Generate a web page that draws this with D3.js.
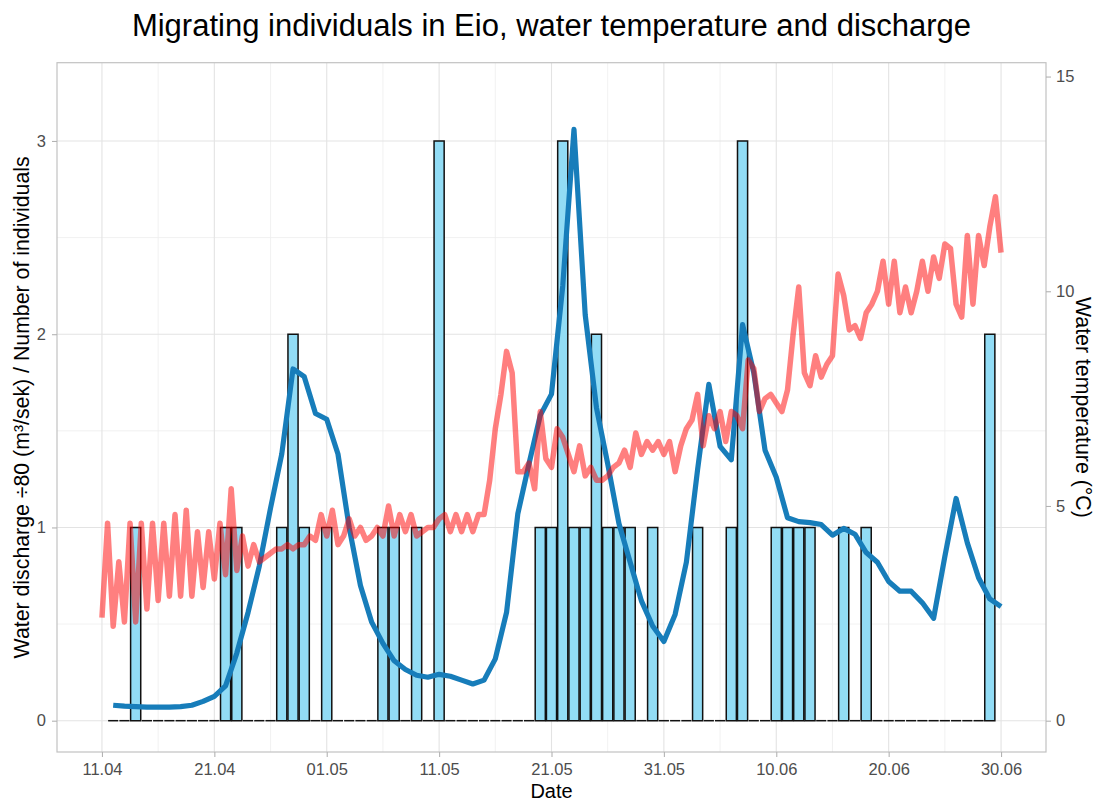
<!DOCTYPE html>
<html><head><meta charset="utf-8">
<script src="https://cdn.jsdelivr.net/npm/d3@7"></script>
<style>
body{margin:0;background:#fff}
text{font-family:"Liberation Sans",Arial,Helvetica,sans-serif}
</style>
</head><body>
<svg id="chart" width="1100" height="802"></svg>
<script>
// ---------------- data ----------------
const titleText = "Migrating individuals in Eio, water temperature and discharge";
const xTitle = "Date";
const yLeftTitle = "Water discharge \u00F780 (m\u00B3/sek) / Number of individuals";
const yRightTitle = "Water temperature (\u00B0C)";

const firstDate = "2021-04-11";   // first temperature reading / first axis tick
const lastDate  = "2021-06-30";   // last axis tick
const xTickLabels = ["11.04","21.04","01.05","11.05","21.05","31.05","10.06","20.06","30.06"];
const yLeftTicks  = [0, 1, 2, 3];
const yRightTicks = [0, 5, 10, 15];

// migrating individuals per day, 12.04 - 29.06
const countStart = "2021-04-12";
const fishCounts = [
  0,0,1,0,0,0,0,0,0,0,
  1,1,0,0,0,1,2,1,0,1,
  0,0,0,0,1,1,0,1,0,3,
  0,0,0,0,0,0,0,0,1,1,
  3,1,1,2,1,1,1,0,1,0,
  0,0,1,0,0,1,3,0,0,1,
  1,1,1,0,0,1,0,1,0,0,
  0,0,0,0,0,0,0,0,2
];

// daily water discharge (m3/s), 12.04 - 30.06
const dischargeStart = "2021-04-12";
const discharge = [
  6.4,6.0,5.8,5.6,5.6,5.6,5.8,6.4,8.0,10.1,
  14.4,28.0,44.8,64.0,88.0,110.4,145.6,142.4,127.2,124.8,
  110.4,80.0,56.0,40.8,32.0,24.8,21.2,18.8,18.0,19.2,
  18.4,16.8,15.2,16.8,25.6,44.8,85.6,106.4,126.4,135.2,
  180.0,244.8,168.0,129.6,106.4,81.6,65.6,49.6,39.2,32.8,
  44.0,65.6,104.0,139.2,113.6,108.0,164.0,144.0,112.0,100.8,
  84.0,82.4,82.0,81.2,76.8,79.6,77.2,69.6,65.6,57.6,
  53.6,53.6,48.8,42.4,68.0,92.0,73.6,59.2,50.4,47.2
];

// water temperature (degC), every 12 hours from 11.04 00:00 to 30.06 00:00
const waterTemp = [
  2.4,4.6, 2.2,3.7, 2.3,4.6, 2.3,4.6, 2.6,4.6, 2.8,4.6, 2.9,4.8, 2.9,4.9, 2.9,4.4, 3.1,4.4,
  3.3,4.6, 3.4,5.4, 3.5,4.3, 3.6,4.1, 3.7,3.8, 3.9,4.0, 4.0,4.1, 4.0,4.1, 4.1,4.3, 4.2,4.8,
  4.3,4.9, 4.1,4.3, 4.7,4.3, 4.5,4.2, 4.3,4.5, 4.3,5.0, 4.3,4.8, 4.4,4.8, 4.3,4.4, 4.5,4.5,
  4.7,4.8, 4.4,4.8, 4.4,4.8, 4.4,4.8, 4.8,5.6, 6.8,7.6, 8.6,8.1, 5.8,5.8, 6.0,5.4, 7.2,6.1,
  5.9,6.8, 6.6,6.2, 5.8,6.4, 5.7,5.9, 5.6,5.6, 5.7,5.9, 6.0,6.3, 5.9,6.7, 6.2,6.5, 6.3,6.5,
  6.2,6.5, 5.8,6.4, 6.8,7.0, 7.6,6.4, 7.1,6.8, 7.2,6.5, 7.2,7.1, 6.8,8.4, 8.2,7.2, 7.5,7.6,
  7.4,7.2, 7.7,9.0, 10.1,8.1, 7.8,8.5, 8.0,8.3, 8.5,10.4, 9.9,9.1, 9.2,8.9, 9.5,9.7, 10.0,10.7,
  9.7,10.7, 9.5,10.1, 9.5,10.0, 10.7,10.0, 10.8,10.3, 11.1,11.0, 9.7,9.4, 11.3,9.7, 11.3,10.6, 11.5,12.2,
  10.9
];
const tempFactor = 4.5;     // secondary axis: degC = primary * 4.5
const dischargeDivisor = 80;

// ---------------- layout ----------------
const P = {left: 57, right: 1046, top: 62.7, bottom: 752};
const svg = d3.select("#chart");
const parse = d3.utcParse("%Y-%m-%d");
const day0 = parse(firstDate), dayN = parse(lastDate);
const span = dayN - day0;
const DAY = 864e5;

const x = d3.scaleUtc()
  .domain([new Date(+day0 - 0.05 * span), new Date(+dayN + 0.05 * span)])
  .range([P.left, P.right]);
const y = d3.scaleLinear().domain([-0.162, 3.405]).range([P.bottom, P.top]);
const yR = d3.scaleLinear().domain(y.domain().map(v => v * tempFactor)).range(y.range());

const majorX = xTickLabels.map((_, i) => d3.utcDay.offset(day0, i * 10));
const minorX = majorX.slice(0, -1).map(d => d3.utcDay.offset(d, 5));
const minorY = [0.5, 1.5, 2.5];

// grid
const grid = svg.append("g");
grid.selectAll(".mnx").data(minorX).join("line")
  .attr("x1", d => x(d)).attr("x2", d => x(d)).attr("y1", P.top).attr("y2", P.bottom)
  .attr("stroke", "#EDEDED").attr("stroke-width", 0.8);
grid.selectAll(".mny").data(minorY).join("line")
  .attr("x1", P.left).attr("x2", P.right).attr("y1", d => y(d)).attr("y2", d => y(d))
  .attr("stroke", "#EDEDED").attr("stroke-width", 0.8);
grid.selectAll(".mjx").data(majorX).join("line")
  .attr("x1", d => x(d)).attr("x2", d => x(d)).attr("y1", P.top).attr("y2", P.bottom)
  .attr("stroke", "#E3E3E3").attr("stroke-width", 1.1);
grid.selectAll(".mjy").data(yLeftTicks).join("line")
  .attr("x1", P.left).attr("x2", P.right).attr("y1", d => y(d)).attr("y2", d => y(d))
  .attr("stroke", "#E3E3E3").attr("stroke-width", 1.1);

// bars
const cStart = parse(countStart);
const barData = fishCounts.map((c, i) => ({date: d3.utcDay.offset(cStart, i), n: c}));
const halfW = (x(new Date(+day0 + 0.9 * DAY)) - x(day0)) / 2;
svg.append("g").selectAll("path").data(barData).join("path")
  .attr("d", d => {
    const p = d3.path();
    const x0 = x(d.date) - halfW, x1 = x(d.date) + halfW;
    if (d.n > 0) { p.rect(x0, y(d.n), x1 - x0, y(0) - y(d.n)); }
    else { p.moveTo(x0, y(0)); p.lineTo(x1, y(0)); }
    return p.toString();
  })
  .attr("fill", d => d.n > 0 ? "#92DCF5" : "none")
  .attr("stroke", "#111").attr("stroke-width", 1.5);

// discharge line
const qStart = parse(dischargeStart);
const qData = discharge.map((q, i) => ({date: d3.utcDay.offset(qStart, i), v: q / dischargeDivisor}));
svg.append("path").datum(qData)
  .attr("d", d3.line().x(d => x(d.date)).y(d => y(d.v)))
  .attr("fill", "none").attr("stroke", "#177DBA").attr("stroke-width", 5.2)
  .attr("stroke-linejoin", "round").attr("stroke-linecap", "butt");

// temperature line
const tData = waterTemp.map((t, i) => ({date: new Date(+day0 + i * DAY / 2), t}));
svg.append("path").datum(tData)
  .attr("d", d3.line().x(d => x(d.date)).y(d => yR(d.t)))
  .attr("fill", "none").attr("stroke", "#FF0000").attr("stroke-opacity", 0.5)
  .attr("stroke-width", 5.5).attr("stroke-linejoin", "round");

// panel border
svg.append("rect").attr("x", P.left).attr("y", P.top)
  .attr("width", P.right - P.left).attr("height", P.bottom - P.top)
  .attr("fill", "none").attr("stroke", "#C2C2C2").attr("stroke-width", 1.2);

// axes
function styleAxis(g) {
  g.select(".domain").remove();
  g.selectAll(".tick line").attr("stroke", "#B3B3B3").attr("stroke-width", 1.1);
  g.selectAll(".tick text").attr("fill", "#4D4D4D").style("font-size", "16.5px")
    .style("font-family", "'Liberation Sans', Arial, sans-serif");
}
svg.append("g").attr("transform", `translate(0,${P.bottom})`)
  .call(d3.axisBottom(x).tickValues(majorX).tickFormat((d, i) => xTickLabels[i]).tickSize(5).tickPadding(6))
  .call(styleAxis);
svg.append("g").attr("transform", `translate(${P.left},0)`)
  .call(d3.axisLeft(y).tickValues(yLeftTicks).tickFormat(d3.format("d")).tickSize(5).tickPadding(6))
  .call(styleAxis);
svg.append("g").attr("transform", `translate(${P.right},0)`)
  .call(d3.axisRight(yR).tickValues(yRightTicks).tickFormat(d3.format("d")).tickSize(5).tickPadding(5))
  .call(styleAxis);

// titles
svg.append("text").attr("x", (P.left + P.right) / 2).attr("y", 36)
  .attr("text-anchor", "middle").style("font-size", "31px").attr("fill", "#000").text(titleText);
svg.append("text").attr("x", (P.left + P.right) / 2).attr("y", 797.5)
  .attr("text-anchor", "middle").style("font-size", "20px").attr("fill", "#000").text(xTitle);
svg.append("text").attr("transform", `translate(29,${(P.top + P.bottom) / 2}) rotate(-90)`)
  .attr("text-anchor", "middle").style("font-size", "21.3px").attr("fill", "#000").text(yLeftTitle);
svg.append("text").attr("transform", `translate(1076,${(P.top + P.bottom) / 2}) rotate(90)`)
  .attr("text-anchor", "middle").style("font-size", "21.3px").attr("fill", "#000").text(yRightTitle);
</script>
</body></html>
